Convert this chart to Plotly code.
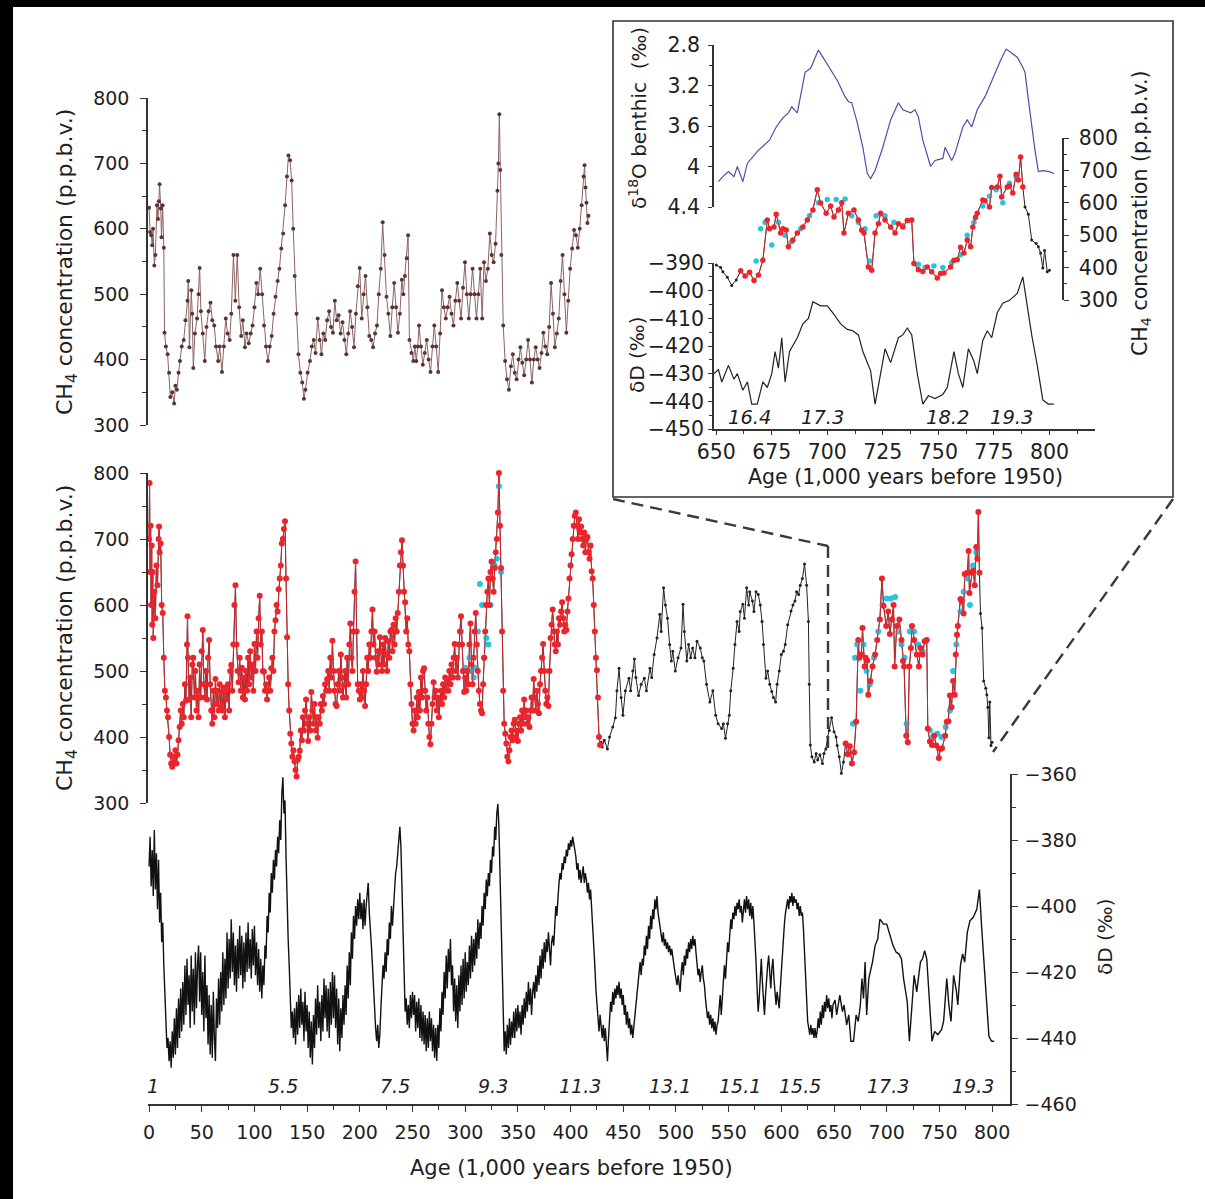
import plotly.graph_objects as go

# ---------------------------------------------------------------- data
# EDC deuterium (main bottom panel), age in kyr BP, dD in per mil
DD_AGE = [
    0, 1, 2, 3, 4, 5, 6, 7, 8, 9, 10, 11, 12, 13, 14, 15, 16, 17, 18, 19,
    20, 21, 22, 23, 24, 25, 26, 27, 28, 29, 30, 31, 32, 33, 34, 35, 36, 37, 38, 39,
    40, 41, 42, 43, 44, 45, 46, 47, 48, 49, 50, 51, 52, 53, 54, 55, 56, 57, 58, 59,
    60, 61, 62, 63, 64, 65, 66, 67, 68, 69, 70, 71, 72, 73, 74, 75, 76, 77, 78, 79,
    80, 81, 82, 83, 84, 85, 86, 87, 88, 89, 90, 91, 92, 93, 94, 95, 96, 97, 98, 99,
    100, 101, 102, 103, 104, 105, 106, 107, 108, 109, 110, 111, 112, 113, 114, 115, 116, 117, 118, 119,
    120, 121, 122, 123, 124, 125, 126, 127, 128, 129, 130, 131, 132, 133, 134, 135, 136, 137, 138, 139,
    140, 141, 142, 143, 144, 145, 146, 147, 148, 149, 150, 151, 152, 153, 154, 155, 156, 157, 158, 159,
    160, 161, 162, 163, 164, 165, 166, 167, 168, 169, 170, 171, 172, 173, 174, 175, 176, 177, 178, 179,
    180, 181, 182, 183, 184, 185, 186, 187, 188, 189, 190, 191, 192, 193, 194, 195, 196, 197, 198, 199,
    200, 201, 202, 203, 204, 205, 206, 207, 208, 209, 210, 211, 212, 213, 214, 215, 216, 217, 218, 219,
    220, 221, 222, 223, 224, 225, 226, 227, 228, 229, 230, 231, 232, 233, 234, 235, 236, 237, 238, 239,
    240, 241, 242, 243, 244, 245, 246, 247, 248, 249, 250, 251, 252, 253, 254, 255, 256, 257, 258, 259,
    260, 261, 262, 263, 264, 265, 266, 267, 268, 269, 270, 271, 272, 273, 274, 275, 276, 277, 278, 279,
    280, 281, 282, 283, 284, 285, 286, 287, 288, 289, 290, 291, 292, 293, 294, 295, 296, 297, 298, 299,
    300, 301, 302, 303, 304, 305, 306, 307, 308, 309, 310, 311, 312, 313, 314, 315, 316, 317, 318, 319,
    320, 321, 322, 323, 324, 325, 326, 327, 328, 329, 330, 331, 332, 333, 334, 335, 336, 337, 338, 339,
    340, 341, 342, 343, 344, 345, 346, 347, 348, 349, 350, 351, 352, 353, 354, 355, 356, 357, 358, 359,
    360, 361, 362, 363, 364, 365, 366, 367, 368, 369, 370, 371, 372, 373, 374, 375, 376, 377, 378, 379,
    380, 381, 382, 383, 384, 385, 386, 387, 388, 389, 390, 391, 392, 393, 394, 395, 396, 397, 398, 399,
    400, 401, 402, 403, 404, 405, 406, 407, 408, 409, 410, 411, 412, 413, 414, 415, 416, 417, 418, 419,
    420, 421, 422, 423, 424, 425, 426, 427, 428, 429, 430, 431, 432, 433, 434, 435, 436, 437, 438, 439,
    440, 441, 442, 443, 444, 445, 446, 447, 448, 449, 450, 451, 452, 453, 454, 455, 456, 457, 458, 459,
    460, 461, 462, 463, 464, 465, 466, 467, 468, 469, 470, 471, 472, 473, 474, 475, 476, 477, 478, 479,
    480, 481, 482, 483, 484, 485, 486, 487, 488, 489, 490, 491, 492, 493, 494, 495, 496, 497, 498, 499,
    500, 501, 502, 503, 504, 505, 506, 507, 508, 509, 510, 511, 512, 513, 514, 515, 516, 517, 518, 519,
    520, 521, 522, 523, 524, 525, 526, 527, 528, 529, 530, 531, 532, 533, 534, 535, 536, 537, 538, 539,
    540, 541, 542, 543, 544, 545, 546, 547, 548, 549, 550, 551, 552, 553, 554, 555, 556, 557, 558, 559,
    560, 561, 562, 563, 564, 565, 566, 567, 568, 569, 570, 571, 572, 573, 574, 575, 576, 577, 578, 579,
    580, 581, 582, 583, 584, 585, 586, 587, 588, 589, 590, 591, 592, 593, 594, 595, 596, 597, 598, 599,
    600, 601, 602, 603, 604, 605, 606, 607, 608, 609, 610, 611, 612, 613, 614, 615, 616, 617, 618, 619,
    620, 621, 622, 623, 624, 625, 626, 627, 628, 629, 630, 631, 632, 633, 634, 635, 636, 637, 638, 639,
    640, 641, 642, 643, 644, 645, 646, 647, 648, 649,
    651, 652.5, 655.5, 658, 659.5, 662, 664, 666, 668.5, 671, 673, 675, 676.5, 678, 679.5, 681,
    683, 686.5, 689, 691.5, 693.5, 697, 700, 702.5, 706, 709, 711.5, 714, 716, 719.5, 721.5, 724,
    726, 728.5, 732, 734, 736, 738, 740.5, 743, 745.5, 748.5, 752, 754, 757, 759, 761, 763.5,
    766, 767.5, 770, 772, 774, 776.5, 779, 782, 785.5, 788, 790, 792, 794.5, 797, 799.5, 802,
]
DD_VALUE = [
    -388, -379, -394, -383, -397, -377, -395, -384, -401, -386,
    -405, -396, -411, -405, -418, -428, -437, -443, -440, -447,
    -441, -449, -438, -446, -434, -445, -431, -443, -428, -440,
    -425, -438, -423, -436, -418, -433, -416, -430, -421, -437,
    -415, -432, -419, -436, -414, -431, -418, -412, -429, -414,
    -433, -420, -438, -415, -434, -424, -442, -427, -445, -430,
    -446, -426, -440, -447, -428, -437, -422, -436, -420, -432,
    -414, -430, -416, -428, -408, -425, -410, -422, -404, -420,
    -408, -424, -412, -426, -410, -422, -406, -421, -409, -425,
    -411, -423, -408, -420, -405, -419, -410, -422, -407, -418,
    -406, -421, -411, -424, -413, -426, -416, -428, -418, -424,
    -412, -416, -403, -408, -396, -402, -390, -396, -386, -392,
    -383, -388, -379, -384, -374, -380, -366, -361, -372, -368,
    -385, -400, -410, -418, -430, -437, -432, -440, -431, -442,
    -429, -439, -427, -437, -425, -436, -429, -441, -426, -438,
    -430, -443, -432, -446, -435, -448, -433, -443, -428, -439,
    -424, -437, -429, -441, -427, -438, -422, -434, -424, -438,
    -425, -440, -423, -436, -420, -434, -421, -437, -425, -442,
    -428, -444, -431, -440, -427, -436, -424, -433, -418, -428,
    -414, -424, -408, -416, -403, -410, -400, -406, -398, -404,
    -396, -404, -399, -407, -398, -406, -400, -396, -393, -402,
    -406, -412, -418, -425, -432, -437, -441, -436, -443, -439,
    -431, -425, -418, -422, -414, -420, -410, -415, -405, -410,
    -400, -406, -398, -395, -390, -388, -384, -380, -376, -382,
    -396, -412, -425, -432, -428, -436, -430, -437, -427, -434,
    -426, -433, -427, -438, -429, -437, -428, -440, -430, -441,
    -432, -442, -433, -444, -434, -443, -432, -441, -434, -444,
    -436, -446, -437, -447, -436, -443, -431, -438, -426, -433,
    -420, -428, -415, -425, -413, -420, -410, -424, -418, -432,
    -422, -435, -424, -437, -421, -432, -418, -430, -416, -428,
    -414, -426, -417, -424, -412, -422, -409, -420, -410, -418,
    -408, -416, -404, -413, -405, -410, -400, -406, -396, -401,
    -392, -397, -390, -394, -386, -390, -382, -385, -376, -380,
    -372, -369, -376, -390, -410, -425, -436, -444, -438, -445,
    -436, -443, -434, -442, -435, -440, -432, -440, -431, -438,
    -430, -437, -432, -439, -430, -436, -428, -434, -426, -432,
    -423, -430, -425, -433, -426, -423, -428, -421, -426, -418,
    -424, -415, -422, -413, -419, -411, -417, -410, -414, -408,
    -413, -418, -411, -409, -412, -405, -400, -403, -396, -393,
    -390, -392, -387, -389, -385, -387, -383, -385, -381, -383,
    -380, -382, -379, -381, -383, -385, -389, -387, -392, -389,
    -393, -390, -388, -393, -390, -392, -396, -393, -398, -395,
    -400, -405, -412, -418, -425, -430, -435, -438, -433, -437,
    -440, -436, -441, -437, -443, -447, -440, -435, -429, -432,
    -426, -430, -425, -428, -424, -427, -423, -428, -425, -430,
    -427, -433, -430, -436, -432, -437, -434, -439, -436, -440,
    -437, -434, -430, -426, -423, -420, -417, -421, -416, -418,
    -412, -415, -409, -413, -406, -410, -403, -407, -401, -404,
    -398, -401, -397, -402, -404, -406, -409, -411, -408, -412,
    -410, -413, -411, -414, -412, -415, -413, -416, -418, -420,
    -422, -424, -421, -423, -426, -420, -417, -421, -415, -418,
    -413, -416, -411, -414, -410, -413, -409, -412, -410, -414,
    -418, -421, -419, -423, -420, -418, -422, -424, -428, -431,
    -434, -432, -436, -433, -437, -434, -438, -435, -439, -436,
    -435, -431, -427, -433, -428, -424, -418, -422, -415, -411,
    -414, -408, -404, -407, -402, -404, -400, -403, -399, -401,
    -398, -402, -400, -405, -401, -398, -402, -397, -401, -398,
    -403, -399, -404, -400, -405, -410, -417, -425, -432, -428,
    -420, -416, -423, -428, -433, -427, -421, -418, -415, -421,
    -425, -419, -416, -422, -427, -430, -426, -429, -431, -425,
    -419, -413, -409, -405, -402, -400, -398, -401, -397, -399,
    -396, -400, -397, -399, -398, -401, -399, -403, -400, -403,
    -402, -407, -415, -423, -430, -435, -437, -439, -436, -439,
    -437, -440, -437, -440, -438, -434, -437, -432, -436, -430,
    -434, -429, -432, -427, -431, -428, -432, -430, -434, -430,
    -428.5, -433, -427, -432, -430, -436, -433, -441, -441, -433, -435, -430, -422, -428, -417, -433,
    -422, -417, -412, -410, -404, -405.5, -405.5, -408, -412, -414, -414.5, -416, -422, -429, -441, -430,
    -421, -426, -417, -416, -413.5, -416, -430, -441, -438, -439, -437.5, -435, -422, -430, -435, -421,
    -425.5, -430, -418, -414.5, -417, -408, -404.5, -403.5, -401, -395, -406, -416, -427, -439.5, -441, -441,
]

# EDC methane (middle panel), ppbv
EDC_AGE = [
    0, 0.5, 1, 1.5, 2, 2.5, 3, 3.5, 4, 5, 6, 7, 8, 9, 9.5,
    10, 11, 12, 13, 14, 15, 16, 17, 18, 19, 20, 21, 22, 23, 24, 25, 26, 27, 28, 29,
    30, 31, 32, 33, 34, 35, 36, 36.5, 37, 38,
    39, 40, 41, 42, 43, 44, 45, 46, 47, 48, 49, 50, 51, 52, 53, 54, 55, 56, 57, 58,
    59, 60, 61, 62, 63, 64, 65, 66, 67, 68, 69, 70, 71, 72, 73, 74, 75, 76, 77, 78,
    79, 80, 81, 82, 83, 84, 85, 86, 87, 88, 89, 90, 91, 92, 93, 94, 95, 96, 97, 98,
    99, 100, 101, 102, 103, 104, 105, 106, 107, 108, 109, 110, 111, 112, 113, 114, 115, 116, 117, 118,
    119, 120, 121, 122, 123, 124, 125, 126, 127, 128, 129, 130, 131, 132, 133, 134, 135, 136, 137, 138,
    139, 140, 141, 142, 143, 144, 145, 146, 147, 148, 149, 150, 151, 152, 153, 154, 155, 156, 157, 158,
    159, 160, 161, 162, 163, 164, 165, 166, 167, 168, 169, 170, 171, 172, 173, 174, 175, 176, 177, 178,
    179, 180, 181, 182, 183, 184, 185, 186, 187, 188, 189, 190, 191, 192, 193, 194, 195, 196, 197, 198,
    199, 200, 201, 202, 203, 204, 205, 206, 207, 208, 209, 210, 211, 212, 213, 214, 215, 216, 217, 218,
    219, 220, 221, 222, 223, 224, 225, 226, 227, 228, 229, 230, 231, 232, 233, 234, 235, 236, 237, 238,
    239, 240, 241, 242, 243, 244, 245, 246, 247, 248, 249, 250, 251, 252, 253, 254, 255, 256, 257, 258,
    259, 260, 261, 262, 263, 264, 265, 266, 267, 268, 269, 270, 271, 272, 273, 274, 275, 276, 277, 278,
    279, 280, 281, 282, 283, 284, 285, 286, 287, 288, 289, 290, 291, 292, 293, 294, 295, 296, 297, 298,
    299, 300, 301, 302, 303, 304, 305, 306, 307, 308, 309, 310, 311, 312, 313, 314, 315, 316, 317, 318,
    319, 320, 321, 322, 323, 324, 325, 326, 327, 328, 329, 330, 331, 332, 333, 334, 335, 336, 337, 338,
    339, 340, 341, 342, 343, 344, 345, 346, 347, 348, 349, 350, 351, 352, 353, 354, 355, 356, 357, 358,
    359, 360, 361, 362, 363, 364, 365, 366, 367, 368, 369, 370, 371, 372, 373, 374, 375, 376, 377, 378,
    379, 380, 381, 382, 383, 384, 385, 386, 387, 388, 389, 390, 391, 392, 393, 394, 395, 396, 397, 398,
    399, 400, 401, 402, 403, 404, 405, 406, 407, 408, 409, 410, 411, 412, 413, 414, 415, 416, 417, 418,
    419, 420, 421, 422, 423, 424, 425, 426, 427, 428, 429, 430,
    432, 435, 437, 440, 442.5, 444, 446, 448, 449.7, 452,
    455.4, 457, 459, 460.6, 462, 464.5, 467, 470, 472, 475.4,
    477, 479.3, 482, 484.7, 486, 488.3, 490, 492, 494, 495.7,
    497, 499.4, 502, 504.8, 506.7, 508, 510.3, 512, 514, 515.8,
    518, 520, 523.1, 525, 526.5, 529, 532.2, 535, 537.7, 540,
    543.3, 545, 547, 549, 550.6, 552, 554.3, 556, 558, 560,
    561, 563.5, 565, 567.1, 569, 570, 572.6, 574, 576, 578.1,
    580, 581.7, 583, 585.4, 587, 589, 590.9, 592.5, 594.6, 596,
    598, 600, 602, 603.7, 606, 609.2, 611, 612.9, 614.5, 616.4,
    618, 620, 622, 624, 625.7, 626.5, 627.5, 629, 631.2, 633,
    634.5, 636.6, 639, 640.5, 642.2, 644, 645.5, 647.7, 650, 652,
    653, 655, 657, 659, 661, 663, 665, 667, 669, 671,
    673, 674, 676, 677, 679, 680, 681.5, 682.5, 684.5, 686.5,
    689, 691, 693.5, 695.5, 697, 699.5, 701.5, 703, 705, 706.5,
    707.5, 709.5, 712, 714, 715.5, 716.5, 718.5, 720, 721.5, 723,
    724, 726, 728.5, 730.5, 732, 734, 736, 738, 739, 741,
    743, 745, 747, 749.5, 751, 752.5, 755.5, 757, 758.5, 760,
    761.5, 763, 764.5, 765.5, 766.7, 767.5, 770, 771, 773, 774,
    776.5, 777.7, 778.5, 781, 782, 783.5, 785, 786, 787, 788,
    789, 790.5, 792, 794, 795, 796, 797, 797.8, 799, 800,
]
EDC_CH4 = [
    700, 785, 650, 720, 600, 690, 570, 650, 550, 620, 580, 660, 630, 700, 719,
    680, 693, 600, 588, 520, 470, 460, 440, 430, 400, 373, 360, 355, 370, 362, 380, 360, 373, 395, 415,
    440, 420, 450, 430, 480, 455, 540, 583, 520, 457,
    490, 430, 510, 520, 460, 500, 440, 470, 430, 510,
    460, 530, 562, 480, 460, 500, 457, 520, 547, 480,
    440, 420, 470, 430, 488, 450, 470, 440, 480, 445,
    468, 440, 475, 430, 470, 457, 480, 440, 500, 509,
    470, 540, 600, 630, 540, 500, 483, 520, 470, 505,
    460, 490, 457, 500, 470, 520, 480, 530, 490, 510,
    470, 541, 500, 560, 520, 580, 614, 540, 560, 500,
    499, 470, 480, 457, 470, 490, 470, 504, 520, 500,
    560, 577, 600, 590, 624, 640, 660, 693, 700, 715,
    727, 640, 551, 480, 440, 405, 390, 370, 380, 363,
    350, 340, 365, 370, 379, 410, 395, 430, 410, 440,
    457, 420, 394, 430, 410, 468, 440, 420, 450, 410,
    430, 399, 430, 420, 450, 440, 462, 450, 480, 470,
    488, 500, 470, 520, 490, 546, 500, 470, 450, 447,
    480, 500, 470, 525, 490, 460, 478, 500, 460, 520,
    480, 540, 572, 520, 500, 560, 620, 666, 560, 480,
    470, 457, 480, 460, 500, 470, 447, 480, 520, 500,
    540, 520, 560, 593, 540, 560, 520, 499, 530, 510,
    551, 530, 500, 540, 510, 550, 525, 500, 545, 520,
    560, 562, 530, 570, 540, 580, 560, 588, 620, 660,
    680, 698, 660, 620, 604, 560, 580, 540, 530, 480,
    450, 420, 410, 440, 420, 460, 430, 468, 440, 490,
    460, 500, 504, 470, 440, 460, 420, 400, 389, 420,
    450, 483, 460, 470, 440, 460, 430, 452, 470, 450,
    480, 460, 490, 470, 488, 470, 500, 480, 510, 490,
    520, 541, 500, 520, 490, 540, 560, 583, 540, 500,
    468, 490, 470, 500, 480, 540, 572, 510, 480, 520,
    560, 588, 540, 500, 470, 450, 440, 436, 480, 520,
    560, 600, 620, 640, 600, 650, 666, 640, 620, 656,
    680, 700, 740, 800, 720, 656, 560, 470, 420, 405,
    390, 370, 363, 380, 400, 410, 395, 420, 426, 400,
    410, 394, 420, 430, 410, 440, 420, 457, 430, 440,
    420, 430, 415, 440, 460, 440, 488, 460, 440, 470,
    450, 436, 480, 500, 520, 541, 500, 470, 450, 460,
    447, 500, 550, 570, 593, 560, 540, 530, 560, 540,
    580, 570, 590, 604, 580, 560, 570, 562, 590, 610,
    640, 660, 677, 700, 720, 735, 740, 720, 700, 730,
    710, 719, 700, 690, 710, 680, 700, 703, 680, 670,
    690, 651, 640, 600, 560, 520, 501, 460, 400, 388,
    392, 385,
    395, 382, 400, 415, 429, 470, 504, 460, 433, 470,
    489, 470, 500, 518, 490, 463, 480, 489, 470, 504,
    490, 525, 550, 586, 560, 626, 600, 580, 540, 515,
    530, 500, 520, 535, 601, 560, 515, 540, 520, 535,
    520, 545, 535, 520, 515, 480, 453, 470, 433, 420,
    413, 420, 398, 420, 433, 470, 504, 540, 575, 560,
    590, 601, 580, 626, 600, 620, 606, 590, 620, 616,
    600, 575, 540, 489, 500, 480, 469, 460, 453, 480,
    500, 525, 530, 540, 570, 591, 600, 606, 620, 616,
    630, 640, 662, 630, 575, 480, 388, 370, 362, 375,
    365, 373, 360, 375, 382, 400, 410, 429, 408, 400,
    387, 370, 345, 362, 390, 374, 386, 360, 377, 423,
    547, 520, 525, 565, 507, 520, 516, 464, 485, 507,
    525, 547, 578, 640, 599, 568, 590, 556, 578, 600,
    507, 568, 578, 547, 515, 507, 402, 392, 507, 535,
    568, 547, 525, 507, 535, 525, 545, 547, 413, 393,
    388, 402, 387, 368, 382, 383, 402, 423, 424, 463,
    445, 485, 464, 525, 555, 568, 609, 606, 587, 647,
    649, 682, 618, 649, 652, 630, 688, 670, 741, 649,
    587, 565, 485, 474, 464, 445, 399, 453, 387, 392,
]

# second laboratory (cyan) methane values
CYAN_AGE = [
    296, 298, 300, 302, 304, 306, 308, 310, 312, 314, 316, 318, 320, 322, 324, 326, 328, 330, 332, 334,
    668, 670, 672, 675, 678, 681, 684, 688, 692, 696, 700, 704, 708, 711, 714, 717, 719, 722,
    726, 730, 734, 737, 741, 744, 748, 752, 756, 760, 763, 766, 770, 773, 776, 779, 782, 785,
]
CYAN_CH4 = [
    560, 500, 505, 480, 520, 500, 490, 505, 560, 632, 600, 520, 550, 540, 600, 640, 660, 670, 780, 650,
    420, 520, 540, 470, 540, 500, 480, 520, 560, 600, 610, 610, 612, 560, 540, 520, 420, 560,
    560, 540, 530, 545, 410, 400, 405, 400, 415, 440, 500, 540, 590, 620, 640, 600, 660, 680,
]

# Vostok methane (top panel)
VOS_AGE = [
    0, 1, 2, 3, 3.8, 5, 6, 7.5, 8.5, 9.3, 10, 11.1, 11.8, 12.9, 14, 14.7, 16, 17.6, 19, 20.2,
    22, 23.8, 25, 26.4, 28, 29.3, 31, 32.9, 34.5, 36.5, 37.2, 38.3, 40.1, 41, 42, 43.5, 45.6, 47, 48, 49.2,
    51, 52.9, 54.5, 56.5, 58.3, 60, 61.9, 63.5, 65.6, 67, 69.2, 71, 72.8, 74.5, 76.5, 78, 80.1, 81.9, 83.7, 85.5,
    87.4, 89, 91, 92.5, 94.6, 96.5, 98.2, 100, 101.9, 103.5, 105.5, 107.3, 109.1, 111, 112.8, 114.5, 116.4, 118.2, 120, 122,
    123.7, 125.5, 127.3, 129.1, 130.9, 132.3, 133.8, 135.3, 136.8, 138.2, 140, 141.8, 143.6, 145.4, 147, 148.4, 150.5, 152.7, 154.5, 156.3,
    158, 160, 161.8, 163.6, 165.4, 167.2, 169, 170.9, 172.7, 174.5, 176.3, 178, 179.9, 181.8, 183.6, 185.4, 187.2, 189, 190.8, 192.7,
    194.5, 196.3, 198.1, 199.9, 201.8, 203.6, 205.4, 207.2, 209, 210.8, 212.6, 214.5, 216.3, 218, 219.9, 221.7, 223.5, 225.3, 227.1, 229,
    230.8, 232.6, 234.4, 236.2, 238, 239.9, 241.3, 242.8, 244.6, 245.8, 247.1, 249, 250.8, 252.2, 253.6, 255, 256.2, 258, 259.8, 261.6,
    263.5, 265.3, 267.1, 269, 270.7, 272.5, 274.4, 276.2, 278, 279.8, 281.6, 283.4, 285.2, 287, 288.9, 290.7, 292.5, 294.3, 296.1, 298,
    299.8, 301.6, 303.4, 305.2, 307, 308.9, 310.7, 312.5, 314.3, 316.1, 317.9, 319.7, 321.5, 323.4, 325.2, 327, 328.8, 330.6, 331.5, 332.4,
    333.3, 334.3, 336.1, 337.9, 339.7, 341.5, 343.4, 345.2, 347, 348.8, 350.6, 352.4, 354.2, 356, 357.9, 359.7, 361.5, 363.3, 365.1, 366.9,
    368.8, 370.6, 372.4, 374.2, 376, 377.9, 379.7, 381.5, 383.3, 385.1, 387, 388.8, 390.6, 392.4, 394.2, 396, 397.8, 399.6, 401.5, 403.3,
    405.1, 406.9, 408.7, 410.5, 412.4, 413.3, 414.2, 415.1, 416, 417,
]
VOS_CH4 = [
    632, 595, 590, 575, 600, 544, 560, 636, 615, 642, 668, 631, 587, 636, 571, 441, 420, 408, 380, 343,
    350, 333, 360, 354, 380, 398, 420, 430, 460, 490, 520, 419, 506, 470, 387, 440, 463, 500, 540, 474,
    440, 398, 450, 474, 487, 460, 452, 420, 398, 420, 381, 420, 463, 440, 430, 470, 560, 490, 560, 480,
    436, 460, 419, 440, 425, 440, 452, 480, 517, 500, 539, 500, 452, 420, 398, 420, 436, 470, 496, 520,
    539, 570, 593, 636, 680, 712, 705, 674, 600, 528, 470, 408, 380, 365, 340, 354, 380, 398, 420, 430,
    410, 463, 430, 408, 440, 430, 460, 474, 450, 441, 490, 460, 468, 440, 457, 430, 408, 440, 474, 450,
    419, 470, 512, 540, 463, 500, 528, 480, 436, 430, 419, 440, 452, 500, 539, 610, 560, 496, 470, 436,
    480, 517, 480, 441, 470, 522, 500, 528, 555, 590, 430, 410, 398, 420, 398, 420, 452, 420, 392, 410,
    430, 400, 381, 420, 452, 420, 381, 440, 506, 480, 463, 480, 496, 470, 452, 490, 517, 490, 463, 510,
    549, 500, 463, 500, 539, 500, 463, 500, 539, 463, 549, 520, 539, 593, 560, 549, 577, 658, 700, 775,
    690, 560, 452, 398, 370, 354, 390, 408, 380, 370, 400, 419, 395, 376, 400, 430, 400, 365, 400, 419,
    400, 387, 410, 441, 420, 408, 450, 517, 470, 419, 440, 463, 520, 560, 500, 441, 490, 539, 570, 598,
    590, 571, 600, 636, 680, 697, 663, 640, 609, 620,
]

# benthic d18O stack (inset)
BEN_AGE = [
    651, 653, 655.5, 658, 659.5, 662, 664, 666, 668.5, 671, 674, 677, 680, 682.5, 684, 686.5,
    688, 690, 692.5, 694.5, 696, 698, 701, 704.5, 708, 709.5, 711, 713.5, 716, 718, 719.5, 721.5,
    725, 728.5, 732, 734, 737.5, 739.5, 741, 743, 746.5, 748.5, 752, 753, 756, 757.5, 761, 763,
    765, 767.5, 771, 774, 778, 780.5, 783, 785.5, 788, 789, 790.5, 792, 793.5, 795, 797, 800, 802,
]
BEN_D18O = [
    4.15, 4.10, 4.05, 4.10, 4.00, 4.15, 3.97, 3.92, 3.85, 3.80, 3.74, 3.61, 3.52, 3.47, 3.41, 3.47,
    3.30, 3.07, 3.03, 2.93, 2.85, 2.92, 3.02, 3.15, 3.31, 3.36, 3.37, 3.57, 3.81, 4.07, 4.12, 4.04,
    3.81, 3.54, 3.37, 3.44, 3.47, 3.44, 3.51, 3.74, 4.00, 3.94, 3.92, 3.81, 3.94, 3.87, 3.61, 3.54,
    3.61, 3.44, 3.31, 3.15, 2.95, 2.84, 2.88, 2.92, 3.02, 3.07, 3.34, 3.61, 3.84, 4.05, 4.04, 4.05, 4.07,
]

# marine isotope stage labels
MIS_LABELS = ["1", "5.5", "7.5", "9.3", "11.3", "13.1", "15.1", "15.5", "17.3", "19.3"]
MIS_AGES = [4, 127, 233, 326, 409, 494, 561, 618, 701, 782]
INSET_MIS_LABELS = ["16.4", "17.3", "18.2", "19.3"]
INSET_MIS_AGES = [665, 698, 754, 783]

MAIN_X_TICKS = [0, 50, 100, 150, 200, 250, 300, 350, 400, 450, 500, 550, 600, 650, 700, 750, 800]
CH4_TICKS = [300, 400, 500, 600, 700, 800]
DD_TICKS = [-460, -440, -420, -400, -380, -360]
INSET_X_TICKS = [650, 675, 700, 725, 750, 775, 800]
INSET_DD_TICKS = [-450, -440, -430, -420, -410, -400, -390]
INSET_D18O_TICKS = [2.8, 3.2, 3.6, 4, 4.4]

# ---------------------------------------------------------------- styling
W, H = 1205, 1199
FONT = "DejaVu Sans"
AX = "#333333"
TXT = "#1e1e1e"
RED = "rgb(236,36,44)"
CYAN = "rgb(38,196,224)"
BROWN_LINE = "rgb(140,100,100)"
BROWN_MK = "rgb(92,52,52)"
BLUE = "rgb(78,78,168)"


def px(x):
    return x / W


def py(y):
    return 1 - y / H


def axis(size=19, **kw):
    base = dict(showline=True, linecolor=AX, linewidth=1.5, ticks="outside", tickcolor=AX,
                tickwidth=1.4, ticklen=6, showgrid=False, zeroline=False, automargin=False,
                tickfont=dict(family=FONT, size=size, color=TXT))
    base.update(kw)
    return base


def minor(dtick, tick0=0, ticklen=4):
    return dict(ticks="outside", ticklen=ticklen, tickcolor=AX, tickwidth=1.2, dtick=dtick,
                tick0=tick0, showgrid=False)


def select(ages, vals, lo, hi):
    pa, pv = [], []
    for a, v in zip(ages, vals):
        if lo <= a <= hi:
            pa.append(a)
            pv.append(v)
    return pa, pv


fig = go.Figure()

# bottom: deuterium
fig.add_trace(go.Scatter(x=DD_AGE, y=DD_VALUE, xaxis="x", yaxis="y", mode="lines",
                         line=dict(color="#111111", width=1.4), hoverinfo="skip"))

# middle: EDC methane
fig.add_trace(go.Scatter(x=EDC_AGE, y=EDC_CH4, xaxis="x", yaxis="y2", mode="lines+markers",
                         line=dict(color="#222222", width=1), marker=dict(color="#222222", size=3),
                         cliponaxis=False, hoverinfo="skip"))
ca, cv = select(CYAN_AGE, CYAN_CH4, 0, 800)
fig.add_trace(go.Scatter(x=ca, y=cv, xaxis="x", yaxis="y2", mode="markers",
                         marker=dict(color=CYAN, size=6), cliponaxis=False, hoverinfo="skip"))
for lo, hi in [(0, 428), (660, 788)]:
    ra, rv = select(EDC_AGE, EDC_CH4, lo, hi)
    fig.add_trace(go.Scatter(x=ra, y=rv, xaxis="x", yaxis="y2", mode="lines+markers",
                             line=dict(color=RED, width=0.8), marker=dict(color=RED, size=6),
                             cliponaxis=False, hoverinfo="skip"))

# top: Vostok methane
fig.add_trace(go.Scatter(x=VOS_AGE, y=VOS_CH4, xaxis="x", yaxis="y3", mode="lines+markers",
                         line=dict(color=BROWN_LINE, width=1), marker=dict(color=BROWN_MK, size=4),
                         cliponaxis=False, hoverinfo="skip"))

# inset traces
ia, iv = select(DD_AGE, DD_VALUE, 649, 805)
fig.add_trace(go.Scatter(x=ia, y=iv, xaxis="x4", yaxis="y5", mode="lines",
                         line=dict(color="#222222", width=1.2), hoverinfo="skip"))
fig.add_trace(go.Scatter(x=BEN_AGE, y=BEN_D18O, xaxis="x4", yaxis="y6", mode="lines",
                         line=dict(color=BLUE, width=1.2), hoverinfo="skip"))
ea, ev = select(EDC_AGE, EDC_CH4, 649, 805)
fig.add_trace(go.Scatter(x=ea, y=ev, xaxis="x4", yaxis="y7", mode="lines+markers",
                         line=dict(color="#222222", width=1), marker=dict(color="#222222", size=3),
                         cliponaxis=False, hoverinfo="skip"))
ca, cv = select(CYAN_AGE, CYAN_CH4, 649, 805)
fig.add_trace(go.Scatter(x=ca, y=cv, xaxis="x4", yaxis="y7", mode="markers",
                         marker=dict(color=CYAN, size=5.5), cliponaxis=False, hoverinfo="skip"))
ra, rv = select(EDC_AGE, EDC_CH4, 660, 788)
fig.add_trace(go.Scatter(x=ra, y=rv, xaxis="x4", yaxis="y7", mode="lines+markers",
                         line=dict(color=RED, width=0.8), marker=dict(color=RED, size=5.5),
                         cliponaxis=False, hoverinfo="skip"))

# ---------------------------------------------------------------- annotations
ann = []


def label(text, x, y, size=20, angle=0, xref="paper", yref="paper", xanchor="center"):
    ann.append(dict(text=text, x=x, y=y, xref=xref, yref=yref, showarrow=False,
                    textangle=angle, xanchor=xanchor, yanchor="middle",
                    font=dict(family=FONT, size=size, color=TXT)))


label("Age (1,000 years before 1950)", px(571), py(1168), size=21)
label("CH<sub>4</sub> concentration (p.p.b.v.)", px(66), py(262), size=22, angle=-90)
label("CH<sub>4</sub> concentration (p.p.b.v.)", px(66), py(638), size=22, angle=-90)
label("δD (‰)", px(1105), py(937), size=20, angle=-90)
label("δ<sup>18</sup>O benthic  (‰)", px(638), py(118), size=20, angle=-90)
label("δD (‰)", px(637), py(355), size=20, angle=-90)
label("CH<sub>4</sub> concentration (p.p.b.v.)", px(1141), py(213), size=20.5, angle=-90)
label("Age (1,000 years before 1950)", px(905), py(477), size=20.5)
for t, a in zip(MIS_LABELS, MIS_AGES):
    label("<i>" + t + "</i>", a, -454.5, size=19, xref="x", yref="y")
for t, a in zip(INSET_MIS_LABELS, INSET_MIS_AGES):
    label("<i>" + t + "</i>", a, -446, size=19.5, xref="x4", yref="y5")

# ---------------------------------------------------------------- shapes
shapes = [
    dict(type="rect", xref="paper", yref="paper", x0=px(613), x1=px(1173), y0=py(497), y1=py(21),
         line=dict(color=AX, width=1.6), fillcolor="white", layer="below"),
    dict(type="line", xref="paper", yref="paper", x0=px(613), y0=py(499), x1=px(828), y1=py(546),
         line=dict(color="#3a3a3a", width=2.4, dash="12px,7px")),
    dict(type="line", xref="paper", yref="paper", x0=px(828), y0=py(546), x1=px(828), y1=py(755),
         line=dict(color="#3a3a3a", width=2.4, dash="12px,7px")),
    dict(type="line", xref="paper", yref="paper", x0=px(1173), y0=py(499), x1=px(993), y1=py(752),
         line=dict(color="#3a3a3a", width=2.4, dash="12px,7px")),
    dict(type="rect", xref="paper", yref="paper", x0=0, x1=1, y0=py(7), y1=1,
         line=dict(width=0), fillcolor="black", layer="above"),
    dict(type="rect", xref="paper", yref="paper", x0=0, x1=px(13), y0=0, y1=1,
         line=dict(width=0), fillcolor="black", layer="above"),
]

fig.update_layout(
    width=W, height=H, autosize=False,
    margin=dict(l=0, r=0, t=0, b=0, pad=0, autoexpand=False),
    paper_bgcolor="white", plot_bgcolor="rgba(0,0,0,0)",
    showlegend=False,
    font=dict(family=FONT, color=TXT),
    xaxis=axis(domain=[px(148), px(1010)], range=[-1, 817], anchor="y",
               tickmode="array", tickvals=MAIN_X_TICKS, minor=minor(25), ticklabelstandoff=4),
    yaxis=axis(domain=[py(1104), py(774)], range=[-460, -360], anchor="x", side="right",
               tickmode="array", tickvals=DD_TICKS, minor=minor(10, -460), ticklabelstandoff=3),
    yaxis2=axis(domain=[py(803), py(473)], range=[300, 800], anchor="x", side="left",
                tickmode="array", tickvals=CH4_TICKS, minor=minor(50), ticklabelstandoff=7),
    yaxis3=axis(domain=[py(425), py(98)], range=[300, 800], anchor="x", side="left",
                tickmode="array", tickvals=CH4_TICKS, minor=minor(50), ticklabelstandoff=7),
    xaxis4=axis(size=20.5, domain=[px(714), px(1095)], range=[649, 820.5], anchor="y5", ticklen=4,
                tickmode="array", tickvals=INSET_X_TICKS, minor=minor(12.5, 650, 3)),
    yaxis5=axis(size=20.5, domain=[py(429), py(263)], range=[-450, -390], anchor="x4", side="left",
                ticklen=4, tickmode="array", tickvals=INSET_DD_TICKS, minor=minor(5, -450, 3)),
    yaxis6=axis(size=20.5, domain=[py(207), py(45)], range=[4.4, 2.8], anchor="x4", side="left",
                ticklen=4, tickmode="array", tickvals=INSET_D18O_TICKS, minor=minor(0.2, 2.8, 3),
                ticklabelstandoff=4),
    yaxis7=axis(size=20.5, domain=[py(300), py(138)], range=[300, 800], anchor="free",
                position=px(1063), side="right", ticklen=5, tickmode="array", tickvals=CH4_TICKS,
                minor=minor(50, 0, 3), ticklabelstandoff=6),
    annotations=ann,
    shapes=shapes,
)

fig.write_html(
    "out.html",
    config={"responsive": False},
    post_script="document.body.style.margin='0px';document.body.style.padding='0px';"
                "document.documentElement.style.overflow='hidden';",
)
